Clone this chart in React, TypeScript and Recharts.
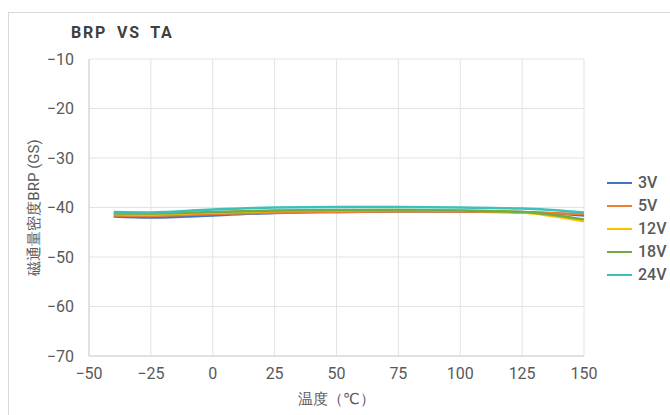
import React from "react";
import { CartesianGrid, Line, LineChart, XAxis, YAxis } from "recharts";

const temps = [-40, -25, 0, 25, 50, 75, 100, 125, 150];
const brp3V = [-41.8, -42.0, -41.6, -41.1, -40.9, -40.8, -40.8, -40.9, -41.6];
const brp5V = [-41.6, -41.7, -41.3, -41.0, -40.9, -40.8, -40.8, -41.0, -41.3];
const brp12V = [-41.3, -41.4, -41.0, -40.7, -40.6, -40.5, -40.6, -41.0, -42.8];
const brp18V = [-41.2, -41.2, -40.9, -40.6, -40.5, -40.5, -40.6, -40.9, -42.4];
const brp24V = [-40.9, -41.0, -40.4, -40.0, -39.9, -39.9, -40.0, -40.2, -41.0];

const xTicks = [-50, -25, 0, 25, 50, 75, 100, 125, 150];
const yTicks = [-70, -60, -50, -40, -30, -20, -10];

const series = [
  { key: "3V", values: brp3V, color: "#4472C4" },
  { key: "5V", values: brp5V, color: "#ED7D31" },
  { key: "12V", values: brp12V, color: "#FFC000" },
  { key: "18V", values: brp18V, color: "#70AD47" },
  { key: "24V", values: brp24V, color: "#3EBFB8" },
];

const data = temps.map((t, i) => {
  const row: Record<string, number> = { t };
  series.forEach((s) => (row[s.key] = s.values[i]));
  return row;
});

const font = "Roboto, 'DejaVu Sans', sans-serif";
const labelColor = "#595959";
const minus = (v: number) => String(v).replace("-", "\u2212");

export default function App() {
  return (
    <div
      style={{
        position: "absolute",
        left: 8,
        top: 12,
        width: 662,
        height: 403,
        border: "1px solid #d9d9d9",
        borderRight: "none",
        borderBottom: "none",
        background: "#fff",
        boxSizing: "border-box",
      }}
    >
      <div
        style={{
          position: "absolute",
          left: 62,
          top: 10,
          fontFamily: font,
          fontWeight: "bold",
          fontSize: 16,
          color: "#404040",
          letterSpacing: 1.8,
          wordSpacing: 4,
        }}
      >
        BRP VS TA
      </div>
      <LineChart width={662} height={403} data={data} margin={{ top: 46, right: 87, bottom: 0, left: 0 }}>
        <CartesianGrid stroke="#e3e3e3" />
        <XAxis
          type="number"
          dataKey="t"
          domain={[-50, 150]}
          ticks={xTicks}
          tickFormatter={minus}
          axisLine={{ stroke: "#d0d0d0" }}
          tickLine={false}
          tick={{ fill: labelColor, fontSize: 16, fontFamily: font }}
          tickMargin={6}
          label={{ value: "温度（℃）", position: "insideBottom", offset: 12, fill: labelColor, fontSize: 15, fontFamily: font }}
          height={60}
        />
        <YAxis
          domain={[-70, -10]}
          ticks={yTicks}
          tickFormatter={minus}
          axisLine={{ stroke: "#d0d0d0" }}
          tickLine={false}
          tick={{ fill: labelColor, fontSize: 16, fontFamily: font }}
          tickMargin={9}
          width={80}
          label={{
            value: "磁通量密度BRP (GS)",
            angle: -90,
            position: "insideLeft",
            offset: 25,
            style: { textAnchor: "middle" },
            fill: labelColor,
            fontSize: 15,
            fontFamily: font,
          }}
        />
        {series.map((s) => (
          <Line
            key={s.key}
            type="monotone"
            dataKey={s.key}
            stroke={s.color}
            strokeWidth={2.5}
            dot={false}
            isAnimationActive={false}
          />
        ))}
      </LineChart>
      <div
        style={{
          position: "absolute",
          left: 598,
          top: 158,
          fontFamily: font,
          fontSize: 16,
          fontWeight: 500,
          color: labelColor,
        }}
      >
        {series.map((s) => (
          <div key={s.key} style={{ display: "flex", alignItems: "center", height: 23 }}>
            <span style={{ display: "inline-block", width: 25, height: 2, background: s.color, marginRight: 6 }} />
            <span>{s.key}</span>
          </div>
        ))}
      </div>
    </div>
  );
}
